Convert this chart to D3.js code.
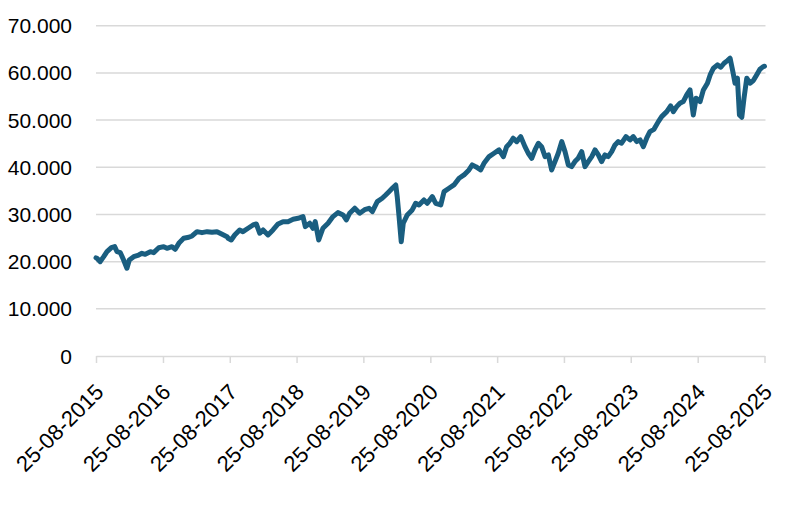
<!DOCTYPE html>
<html>
<head>
<meta charset="utf-8">
<script src="https://cdn.jsdelivr.net/npm/d3@7"></script>
<style>
  html, body { margin: 0; padding: 0; background: #fff; }
  svg { display: block; }
</style>
</head>
<body>
<svg id="chart" width="800" height="509"></svg>
<script>
const dates = [
"2015-08-25","2015-08-30","2015-09-17","2015-10-06","2015-10-24","2015-11-17","2015-12-05","2015-12-18",
"2016-01-05","2016-01-23","2016-02-10","2016-02-23","2016-03-18","2016-04-14","2016-05-02","2016-05-20",
"2016-06-17","2016-07-05","2016-08-02","2016-08-29","2016-09-16","2016-10-13","2016-10-31","2016-11-22",
"2016-12-16","2017-01-13","2017-01-31","2017-02-27","2017-03-26","2017-04-23","2017-05-20","2017-06-16",
"2017-07-14","2017-08-10","2017-08-16","2017-09-02","2017-09-21","2017-10-18","2017-11-05","2017-12-03",
"2017-12-30","2018-01-17","2018-02-05","2018-02-23","2018-03-22","2018-04-18","2018-05-16","2018-06-12",
"2018-07-09","2018-08-06","2018-09-02","2018-09-29","2018-10-12","2018-11-05","2018-11-23","2018-12-05",
"2018-12-24","2019-01-16","2019-02-13","2019-03-12","2019-04-08","2019-05-06","2019-05-24","2019-06-11",
"2019-07-09","2019-08-05","2019-09-01","2019-09-25","2019-10-13","2019-11-09","2019-12-06","2019-12-25",
"2020-01-12","2020-01-30","2020-02-18","2020-02-26","2020-03-07","2020-03-19","2020-03-30","2020-04-21",
"2020-05-18","2020-06-06","2020-06-24","2020-07-21","2020-08-08","2020-09-05","2020-09-23","2020-10-21",
"2020-11-08","2020-12-05","2021-01-01","2021-01-29","2021-02-25","2021-03-24","2021-04-11","2021-04-30",
"2021-05-27","2021-06-14","2021-07-12","2021-08-08","2021-09-04","2021-09-28","2021-10-16","2021-11-03",
"2021-11-21","2021-12-10","2022-01-01","2022-01-24","2022-02-11","2022-03-02","2022-03-20","2022-04-07",
"2022-04-25","2022-05-14","2022-06-01","2022-06-19","2022-07-07","2022-07-25","2022-08-13","2022-08-31",
"2022-09-18","2022-10-06","2022-10-24","2022-11-11","2022-11-30","2022-12-18","2023-01-05","2023-01-24",
"2023-02-11","2023-03-01","2023-03-19","2023-04-06","2023-04-24","2023-05-13","2023-05-31","2023-06-18",
"2023-07-06","2023-07-30","2023-08-21","2023-09-08","2023-09-27","2023-10-15","2023-11-02","2023-11-20",
"2023-12-08","2023-12-30","2024-01-23","2024-02-10","2024-03-09","2024-03-30","2024-04-14","2024-05-02",
"2024-05-20","2024-06-07","2024-06-26","2024-07-14","2024-08-01","2024-08-16","2024-09-07","2024-09-25",
"2024-10-17","2024-11-01","2024-11-19","2024-12-11","2024-12-29","2025-01-16","2025-02-03","2025-02-18",
"2025-03-05","2025-03-17","2025-03-30","2025-04-10","2025-04-23","2025-05-05","2025-05-20","2025-06-07",
"2025-06-25","2025-07-13","2025-07-31","2025-08-18","2025-08-25"
];
const values = [
20800,20700,20000,21050,22100,22950,23170,22100,
21900,20350,18600,20350,21050,21400,21770,21550,
22100,21900,22950,23170,22830,23170,22620,24020,
24950,25160,25440,26350,26140,26350,26220,26350,
25800,25290,24950,24590,25650,26710,26350,27070,
27770,27980,26010,26710,25650,26710,27980,28470,
28470,28980,29190,29540,27420,28130,27070,28470,
24590,27070,28130,29540,30380,29890,28830,30250,
31310,30250,31000,31310,30600,32710,33430,34130,
34830,35550,36250,33780,29540,24230,28130,29890,
30950,32370,32010,33070,32370,33780,32370,32010,
34830,35550,36250,37670,38370,39430,40490,40130,
39430,40840,42260,42970,43670,42260,44370,45090,
46150,45430,46490,44370,42970,41910,43670,45090,
44370,42260,42610,39430,41200,42970,45430,43310,
40490,40130,41200,41910,43310,40130,41200,42260,
43670,42610,41200,42610,42260,43310,44730,45430,
45090,46490,45790,46490,45430,45800,44370,46150,
47550,48040,49670,50730,51790,53000,51790,52850,
53570,53910,55330,56390,51090,54630,53910,56390,
57810,59570,60990,61690,61200,62050,62600,63100,
60280,57810,58870,51090,50600,54630,58870,57810,
58370,59570,60780,61330,61400
];
const yTicks = [0,10000,20000,30000,40000,50000,60000,70000];
const yTickLabels = ["0","10.000","20.000","30.000","40.000","50.000","60.000","70.000"];
const xTicks = ["2015-08-25","2016-08-25","2017-08-25","2018-08-25","2019-08-25","2020-08-25","2021-08-25","2022-08-25","2023-08-25","2024-08-25","2025-08-25"];
const xTickLabels = ["25-08-2015","25-08-2016","25-08-2017","25-08-2018","25-08-2019","25-08-2020","25-08-2021","25-08-2022","25-08-2023","25-08-2024","25-08-2025"];

const parse = d3.utcParse("%Y-%m-%d");
const data = dates.map((d, i) => ({ date: parse(d), value: values[i] }));

const svg = d3.select("#chart");
const mLeft = 96, mRight = 764.5, mTop = 25.7, mBottom = 356;

const x = d3.scaleUtc().domain([parse(xTicks[0]), parse(xTicks[xTicks.length - 1])]).range([mLeft, mRight]);
const y = d3.scaleLinear().domain([0, 70000]).range([mBottom, mTop]);

const font = "'Liberation Sans', Arial, sans-serif";

// gridlines
svg.append("g")
  .selectAll("line")
  .data(yTicks.filter(v => v > 0))
  .join("line")
  .attr("x1", mLeft).attr("x2", mRight + 1)
  .attr("y1", d => y(d)).attr("y2", d => y(d))
  .attr("stroke", "#d9d9d9").attr("stroke-width", 1.5);

// y labels
svg.append("g")
  .selectAll("text")
  .data(yTicks)
  .join("text")
  .attr("x", 72)
  .attr("y", d => y(d))
  .attr("dy", "0.36em")
  .attr("text-anchor", "end")
  .attr("font-family", font)
  .attr("font-size", 21)
  .attr("fill", "#000")
  .text((d, i) => yTickLabels[i]);

// x axis
const xAxis = d3.axisBottom(x)
  .tickValues(xTicks.map(parse))
  .tickFormat((d, i) => xTickLabels[i])
  .tickSize(7)
  .tickSizeOuter(0);

const gx = svg.append("g").attr("transform", `translate(0,${mBottom})`).call(xAxis);
gx.select(".domain").attr("stroke", "#d9d9d9").attr("stroke-width", 1.5);
gx.selectAll(".tick line").attr("stroke", "#d9d9d9").attr("stroke-width", 1.5);
gx.selectAll(".tick text")
  .attr("font-family", font)
  .attr("font-size", 22)
  .attr("fill", "#000")
  .attr("text-anchor", "end")
  .attr("x", 0).attr("y", 0)
  .attr("dy", "0.35em")
  .attr("transform", "translate(3,32) rotate(-45)");

// line
const line = d3.line().x(d => x(d.date)).y(d => y(d.value)).curve(d3.curveLinear);
svg.append("path")
  .datum(data)
  .attr("fill", "none")
  .attr("stroke", "#1a5e80")
  .attr("stroke-width", 5)
  .attr("stroke-linejoin", "round")
  .attr("stroke-linecap", "round")
  .attr("d", line);
</script>
</body>
</html>
